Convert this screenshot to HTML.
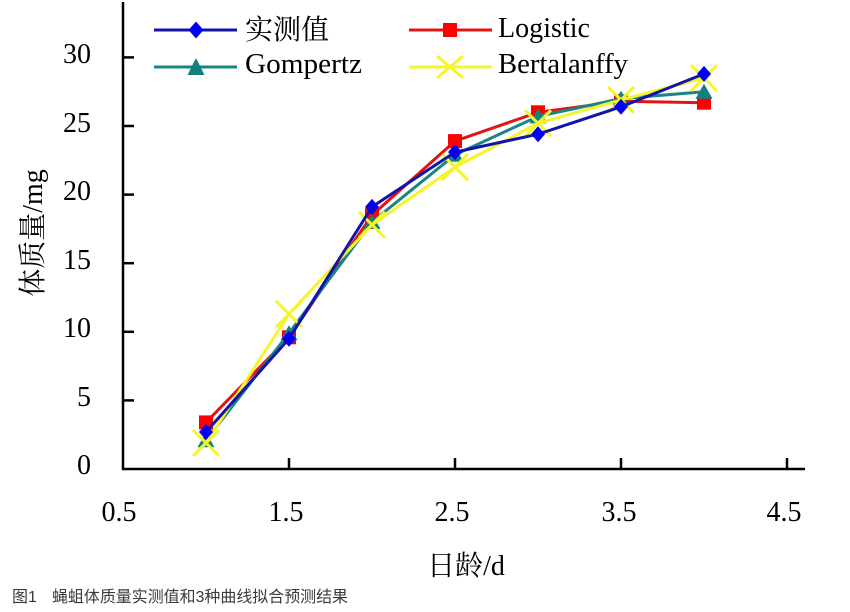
<!DOCTYPE html>
<html><head><meta charset="utf-8"><style>
html,body{margin:0;padding:0;background:#fff;}
svg{display:block;}
</style></head><body>
<svg width="850" height="612" viewBox="0 0 850 612" xmlns="http://www.w3.org/2000/svg">
<rect width="850" height="612" fill="#fff"/>
<!-- axes -->
<g stroke="#000" stroke-width="2.5" fill="none">
<line x1="123" y1="2" x2="123" y2="470"/>
<line x1="122" y1="469" x2="805" y2="469"/>
<!-- y ticks -->
<line x1="123" y1="57.4" x2="134" y2="57.4"/>
<line x1="123" y1="126" x2="134" y2="126"/>
<line x1="123" y1="194.6" x2="134" y2="194.6"/>
<line x1="123" y1="263.2" x2="134" y2="263.2"/>
<line x1="123" y1="331.8" x2="134" y2="331.8"/>
<line x1="123" y1="400.4" x2="134" y2="400.4"/>
<!-- x ticks -->
<line x1="289" y1="469" x2="289" y2="458"/>
<line x1="455" y1="469" x2="455" y2="458"/>
<line x1="621" y1="469" x2="621" y2="458"/>
<line x1="787" y1="469" x2="787" y2="458"/>
</g>
<!-- y tick labels -->
<g font-family="'Liberation Serif', serif" font-size="28" fill="#000" text-anchor="end">
<text x="91" y="63">30</text>
<text x="91" y="132">25</text>
<text x="91" y="200">20</text>
<text x="91" y="269">15</text>
<text x="91" y="337">10</text>
<text x="91" y="406">5</text>
<text x="91" y="474">0</text>
</g>
<!-- x tick labels -->
<g font-family="'Liberation Serif', serif" font-size="28" fill="#000" text-anchor="middle">
<text x="119" y="521">0.5</text>
<text x="286" y="521">1.5</text>
<text x="452" y="521">2.5</text>
<text x="619" y="521">3.5</text>
<text x="784" y="521">4.5</text>
</g>
<!-- axis titles -->
<text x="466" y="575" font-family="'Liberation Serif','Noto Serif CJK SC',serif" font-size="28" text-anchor="middle" fill="#000">日龄/d</text>
<text transform="translate(42,233) rotate(-90)" font-family="'Liberation Serif','Noto Serif CJK SC',serif" font-size="28" text-anchor="middle" fill="#000">体质量/mg</text>
<!-- caption -->
<text x="12" y="602" font-family="'Liberation Sans','Noto Sans CJK SC',sans-serif" font-size="16" fill="#3a3a3a">图1</text>
<text x="52" y="602" font-family="'Liberation Sans','Noto Sans CJK SC',sans-serif" font-size="16" fill="#3a3a3a" textLength="296" lengthAdjust="spacingAndGlyphs">蝇蛆体质量实测值和3种曲线拟合预测结果</text>

<!-- series: Logistic (red) -->
<polyline fill="none" stroke="#e31414" stroke-width="3" points="206,422.4 289,337.3 372,215.2 455,141.1 538,112.3 621,101.3 704,102.7"/>
<g fill="#ff0000">
<rect x="199" y="415.4" width="14" height="14"/>
<rect x="282" y="330.3" width="14" height="14"/>
<rect x="365" y="208.2" width="14" height="14"/>
<rect x="448" y="134.1" width="14" height="14"/>
<rect x="531" y="105.3" width="14" height="14"/>
<rect x="614" y="94.3" width="14" height="14"/>
<rect x="697" y="95.7" width="14" height="14"/>
</g>
<!-- Gompertz (teal) -->
<polyline fill="none" stroke="#1a8585" stroke-width="3" points="206,440.2 289,333.2 372,222 455,154.8 538,116.4 621,98.6 704,91.7"/>
<g fill="#138080">
<polygon points="206,432.2 214.5,447.2 197.5,447.2"/>
<polygon points="289,325.2 297.5,340.2 280.5,340.2"/>
<polygon points="372,214 380.5,229 363.5,229"/>
<polygon points="455,146.8 463.5,161.8 446.5,161.8"/>
<polygon points="538,108.4 546.5,123.4 529.5,123.4"/>
<polygon points="621,90.6 629.5,105.6 612.5,105.6"/>
<polygon points="704,83.7 712.5,98.7 695.5,98.7"/>
</g>
<!-- Bertalanffy (yellow) -->
<polyline fill="none" stroke="#f5f52a" stroke-width="3" points="206,442.9 289,314 372,224.8 455,167.2 538,123.3 621,99.9 704,78"/>
<g stroke="#f5f52a" stroke-width="3" fill="none">
<path d="M193,429.9 L219,455.9 M219,429.9 L193,455.9"/>
<path d="M276,301 L302,327 M302,301 L276,327"/>
<path d="M359,211.8 L385,237.8 M385,211.8 L359,237.8"/>
<path d="M442,154.2 L468,180.2 M468,154.2 L442,180.2"/>
<path d="M525,110.3 L551,136.3 M551,110.3 L525,136.3"/>
<path d="M608,86.9 L634,112.9 M634,86.9 L608,112.9"/>
<path d="M691,65 L717,91 M717,65 L691,91"/>
</g>
<!-- 实测值 (blue) -->
<polyline fill="none" stroke="#1414a8" stroke-width="3" points="206,432 289,338.7 372,206.9 455,152.1 538,134.2 621,106.8 704,73.9"/>
<g fill="#0000f0">
<polygon points="206,424 213,432 206,440 199,432"/>
<polygon points="289,330.7 296,338.7 289,346.7 282,338.7"/>
<polygon points="372,198.9 379,206.9 372,214.9 365,206.9"/>
<polygon points="455,144.1 462,152.1 455,160.1 448,152.1"/>
<polygon points="538,126.2 545,134.2 538,142.2 531,134.2"/>
<polygon points="621,98.8 628,106.8 621,114.8 614,106.8"/>
<polygon points="704,65.9 711,73.9 704,81.9 697,73.9"/>
</g>

<!-- legend -->
<line x1="154" y1="30" x2="237" y2="30" stroke="#1414a8" stroke-width="3"/>
<polygon points="196,21.5 203.5,30 196,38.5 188.5,30" fill="#0000f0"/>
<text x="245" y="39" font-family="'Liberation Serif','Noto Serif CJK SC',serif" font-size="28" fill="#000">实测值</text>

<line x1="409" y1="30" x2="492" y2="30" stroke="#e31414" stroke-width="3"/>
<rect x="443" y="23" width="14" height="14" fill="#ff0000"/>
<text x="498" y="37" font-family="'Liberation Serif',serif" font-size="28" fill="#000" textLength="92" lengthAdjust="spacingAndGlyphs">Logistic</text>

<line x1="154" y1="67" x2="237" y2="67" stroke="#1a8585" stroke-width="3"/>
<polygon points="196,58 204.5,75 187.5,75" fill="#138080"/>
<text x="245" y="73" font-family="'Liberation Serif',serif" font-size="28" fill="#000" textLength="117" lengthAdjust="spacingAndGlyphs">Gompertz</text>

<line x1="409" y1="67" x2="492" y2="67" stroke="#f5f52a" stroke-width="3"/>
<path d="M437,56 L463,78 M463,56 L437,78" stroke="#f5f52a" stroke-width="3" fill="none"/>
<text x="498" y="73" font-family="'Liberation Serif',serif" font-size="28" fill="#000" textLength="130" lengthAdjust="spacingAndGlyphs">Bertalanffy</text>
</svg>
</body></html>
